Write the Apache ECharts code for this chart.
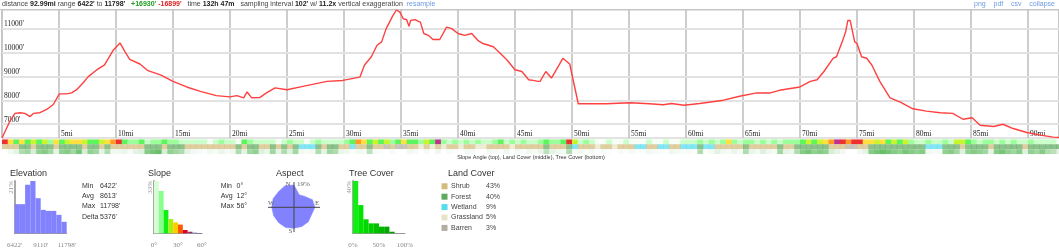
<!DOCTYPE html>
<html><head><meta charset="utf-8">
<script src="https://cdn.jsdelivr.net/npm/echarts@6/dist/echarts.min.js"></script>
<style>html,body{margin:0;padding:0;background:#fff}#c{width:1059px;height:250px}</style>
</head><body><div id="c"></div>
<script>
// ---------- data ----------
const profileMiles = [0,0.7,1.14,1.58,2.0,2.46,2.75,3.33,3.92,4.5,5.03,5.67,6.1,6.55,7.1,7.57,8.3,9.0,9.76,10.35,10.8,11.2,12.1,12.8,13.9,15.0,16.2,17.4,18.8,20.0,20.6,21.2,21.5,21.9,22.6,23.2,23.95,25.0,26.4,28.5,29.9,31.4,31.8,32.4,32.9,33.3,33.7,34.3,34.6,34.9,35.2,35.5,35.7,35.85,36.2,36.7,37.0,37.4,37.8,38.4,39.0,39.45,40.0,40.6,41.2,41.8,42.2,43.1,43.7,44.3,45.0,45.6,46.2,46.6,47.0,47.2,47.7,48.2,49.2,49.8,50.55,53.0,55.1,56.8,58.0,58.75,59.8,61.2,63.3,64.7,66.2,67.4,68.2,70.0,70.9,71.5,72.1,72.9,73.2,73.7,74.0,74.2,74.4,74.8,75.0,75.4,75.85,76.3,77.0,77.9,78.8,79.9,81.1,82.3,83.4,84.3,85.1,85.8,87.0,87.8,88.7,89.9,91.1,92.2,92.99];
const profileElev = [6422,7137,7456,7485,7456,7320,7456,7485,7620,7830,8275,8275,8315,8450,8730,9000,9280,9490,10110,10415,10040,9725,9530,9250,9075,8800,8565,8380,8200,8150,8200,8110,8355,8110,8120,8315,8525,8450,8590,8800,8840,8980,9490,9835,10320,10460,11015,11570,11798,11710,11430,11390,11110,11360,11390,11290,10810,10735,10560,10560,11080,11015,10810,10735,10810,10500,10390,10255,9980,9700,9290,9215,8870,8840,8800,8800,9215,8940,9770,9530,7860,7860,7900,7860,7820,7870,7800,7870,8010,8175,8315,8315,8425,8565,8800,8870,9215,9770,9835,10460,10875,11360,11360,10460,10390,9835,9770,9490,8800,8110,7925,7650,7550,7485,7455,7210,7275,6960,6905,7000,6820,6655,6545,6460,6430];
const elevTicks = [7000,8000,9000,10000,11000];
const elevTickLabels = ["7000'","8000'","9000'","10000'","11000'"];
const mileLabelSuffix = 'mi';

const stripStep = 0.5; // miles per strip cell
const slopeStrip = [
35,28,18,24,14,20,16,22,12,26,
15,20,24,28,22,18,14,20,26,30,
38,15,12,10,14,8,12,10,16,9,
12,8,6,4,8,5,3,6,12,4,
7,3,16,10,5,4,8,6,3,5,
9,4,6,3,7,12,5,4,8,6,
10,14,30,26,18,22,15,20,12,16,
24,14,18,10,20,15,44,12,8,10,
6,9,5,12,8,4,10,14,7,9,
5,12,8,6,10,14,9,12,16,40,
22,8,10,7,3,2,4,2,3,5,
2,3,1,4,2,3,6,2,3,5,
8,6,9,7,10,8,12,26,10,8,
11,9,7,12,8,10,6,9,12,10,
16,20,18,22,28,32,44,36,30,40,
34,28,24,20,25,18,22,16,20,12,
8,5,9,4,7,10,6,20,22,14,
10,8,12,9,6,10,8,12,7,5,
9,6,4,8,5,3];
// 0 shrub, 1 forest, 2 wetland, 3 grassland, 4 barren
const landStrip = [
0,0,0,1,1,0,1,1,1,0,
1,1,1,1,0,1,1,0,1,0,
0,0,0,0,0,1,1,1,0,1,
1,1,0,0,0,0,0,0,0,0,
0,1,0,1,1,0,0,1,0,1,
0,1,2,2,2,1,0,1,1,0,
0,2,0,0,1,0,0,4,0,4,
4,0,0,3,0,3,0,3,0,0,
3,0,0,3,3,0,0,0,0,3,
0,0,0,0,0,1,0,0,0,1,
2,0,0,0,3,0,0,3,0,0,
0,2,2,0,0,2,2,0,0,2,
2,2,1,2,2,0,0,0,0,0,
1,0,0,0,0,0,1,0,0,1,
1,1,1,1,1,0,0,0,4,4,
0,0,1,1,1,1,1,1,1,1,
1,1,2,2,2,1,1,1,0,1,
1,1,1,0,1,1,1,1,1,0,
1,1,1,1,1,1];
const treeStrip = [
0,5,10,30,35,15,40,45,35,10,
40,45,35,50,15,40,35,10,30,5,
5,8,3,10,12,45,50,55,15,40,
35,30,10,5,3,2,5,3,8,4,
6,30,10,35,40,12,8,35,10,30,
12,35,5,3,5,30,10,35,30,8,
6,2,5,4,25,3,2,0,3,0,
0,5,3,0,4,0,6,0,3,2,
0,4,3,0,0,5,3,2,6,0,
4,2,5,3,8,25,10,6,4,30,
3,5,2,4,0,3,2,0,3,2,
4,2,1,5,3,2,1,6,4,2,
3,2,30,2,4,10,5,3,8,4,
30,8,5,12,6,4,35,10,8,30,
45,50,40,45,40,15,10,5,0,0,
5,10,45,50,55,50,45,40,50,45,
40,45,5,3,4,40,45,35,12,40,
45,40,35,10,45,50,40,35,45,12,
40,35,45,30,25,10];
const stripCaption = 'Slope Angle (top), Land Cover (middle), Tree Cover (bottom)';

const elevHist = [11.7,11.7,19.5,21,14.1,9.4,9.0,9.0,7.4,4.6];
const elevHistRange = [6422,11798];
const elevHistLabels = ["6422'","9110'","11798'"];
const elevHistMaxLabel = '21%';
const slopeHist = [33,26.7,14.7,9,6.9,5.5,2.1,1,0.4,0.2];
const slopeHistRange = [0,60];
const slopeHistLabels = ['0°','30°','60°'];
const slopeHistMaxLabel = '33%';
const treeHist = [40,21.6,10.7,7.6,7.6,5.1,5.1,1.2,0,0];
const treeHistRange = [0,100];
const treeHistLabels = ['0%','50%','100%'];
const treeHistMaxLabel = '40%';

// aspect: compass order, clockwise from N, 22.5° apart
const aspectDirs = ['N','NNE','NE','ENE','E','ESE','SE','SSE','S','SSW','SW','WSW','W','WNW','NW','NNW'];
const aspectPct = [18.1,11,12.5,16.2,17,15.5,16.5,16.9,17,17.8,17.6,17.9,18.1,18.4,17.9,19];
const aspectMax = 19;

const elevStats = [['Min',"6422'"],['Avg',"8613'"],['Max',"11798'"],['Delta',"5376'"]];
const slopeStats = [['Min','0°'],['Avg','12°'],['Max','56°']];
const landNames = ['Shrub','Forest','Wetland','Grassland','Barren'];
const landPct = ['43%','40%','9%','5%','3%'];
const panelTitles = ['Elevation','Slope','Aspect','Tree Cover','Land Cover'];

// ---------- styles ----------
const SANS = 'Liberation Sans, Arial, sans-serif';
const SERIF = 'Liberation Serif, Times New Roman, serif';
const landColors = ['#d2bb7c','#5ea95e','#55dbee','#e6e4c6','#b3aea4'];
const slopeBinColors = ['#d6ffd6','#88ff88','#11ee11','#a8ee11','#ffcc00','#ff5a00','#dd0022','#993366','#6464a6','#404090'];
const treeBinColors = ['#11ee11','#00e400','#00d800','#00cc00','#00c000','#00b400','#00a800','#009c00','#009000','#008400'];
function slopeColor(d){
  const th=[4,9,14,19,24,29,34,42];
  const cs=['#f6fff6','#caffca','#9cff9c','#5cf55c','#c8f530','#ffe040','#ff9a2a','#ee3030','#c03090'];
  let i=0; while(i<th.length && d>=th[i]) i++; return cs[i];
}
function treeColor(v){
  const t=Math.min(v/60,1);
  const a=[255,255,255], b=[92,184,92];
  return 'rgb('+a.map((x,k)=>Math.round(x+(b[k]-x)*t)).join(',')+')';
}

// ---------- build ----------
const chart = echarts.init(document.getElementById('c'));
const profileData = profileMiles.map((m,i)=>[m, profileElev[i]]);
function stripData(vals,row){ return vals.map((v,i)=>[i*stripStep,(i+1)*stripStep,row,v]); }
function histData(vals,range){ const w=(range[1]-range[0])/vals.length; return vals.map((v,i)=>[range[0]+i*w, range[0]+(i+1)*w, v, i]); }
function histRender(colors){
  return function(params, api){
    const a=api.coord([api.value(0), api.value(2)]);
    const b=api.coord([api.value(1), 0]);
    return {type:'rect', shape:{x:a[0], y:a[1], width:b[0]-a[0], height:b[1]-a[1]}, style:{fill:colors[api.value(3)%colors.length]}};
  };
}
function stripRender(params, api){
  const row=api.value(2), v=api.value(3);
  const a=api.coord([api.value(0), row]);
  const b=api.coord([api.value(1), row]);
  const h=api.size([0,1])[1];
  let fill, op=1;
  if(row===0) fill=slopeColor(v);
  else if(row===1){ fill=landColors[v]; op=0.72; }
  else fill=treeColor(v);
  return {type:'rect', shape:{x:a[0], y:a[1]-h/2, width:b[0]-a[0]+0.5, height:h}, style:{fill:fill, opacity:op}};
}
const aspectData = aspectPct.map((v,i)=>[v, i*360/aspectDirs.length]);
function aspectRender(params, api){
  if(params.dataIndex!==0) return null;
  const pts = aspectData.map(d=>api.coord([d[0], d[1]]));
  return {type:'polygon', shape:{points:pts}, style:{fill:'#8282ff', stroke:'#8282ff', lineWidth:0.5}};
}

const xMaxMiles = 92.72;
const histGrids = [
  {left:14.7, top:181, width:52, height:52.3},
  {left:154, top:181, width:48, height:52.3},
  {left:353, top:181, width:52, height:52.3}
];
const hists = [
  {vals:elevHist, range:elevHistRange, labels:elevHistLabels, maxLabel:elevHistMaxLabel, colors:['#8282ff']},
  {vals:slopeHist, range:slopeHistRange, labels:slopeHistLabels, maxLabel:slopeHistMaxLabel, colors:slopeBinColors},
  {vals:treeHist, range:treeHistRange, labels:treeHistLabels, maxLabel:treeHistMaxLabel, colors:treeBinColors}
];

const grid = [
  {left:2, right:0, top:10, height:128, show:true, borderColor:'#c6c6c6', borderWidth:1},
  {left:2, right:0, top:139.3, height:15}
].concat(histGrids);

const xAxis = [
  {gridIndex:0, type:'value', min:0, max:xMaxMiles, interval:5,
   axisLine:{show:false}, axisTick:{show:false},
   splitLine:{show:true, lineStyle:{color:'#bdbdbd', width:1.5}},
   axisLabel:{inside:true, margin:0, align:'left', verticalAlign:'bottom', padding:[0,0,0,2],
     color:'#222', fontFamily:SERIF, fontSize:7.5, showMinLabel:false, showMaxLabel:false,
     formatter:v=>v+mileLabelSuffix}},
  {gridIndex:1, type:'value', min:0, max:xMaxMiles, show:false}
];
const yAxis = [
  {gridIndex:0, type:'value', min:6422, max:11798, show:false, splitLine:{show:false}},
  {gridIndex:1, type:'category', data:['slope','land','tree'], inverse:true, show:false}
];
hists.forEach((h,k)=>{
  const interval=(h.range[1]-h.range[0])/2;
  const ymax=Math.max.apply(null,h.vals);
  xAxis.push({gridIndex:2+k, type:'value', min:h.range[0], max:h.range[1], interval:interval,
    axisLine:{show:true, lineStyle:{color:'#9a9a9a', width:1}}, axisTick:{show:false}, splitLine:{show:false},
    axisLabel:{margin:8, color:'#888', fontFamily:SERIF, fontSize:7, showMinLabel:true, showMaxLabel:true,
      formatter:(v,i)=>h.labels[i]}});
  yAxis.push({gridIndex:2+k, type:'value', min:0, max:ymax, interval:ymax,
    axisLine:{show:true, lineStyle:{color:'#a8a8a8', width:2}}, axisTick:{show:false}, splitLine:{show:false},
    axisLabel:{show:true, rotate:90, margin:4, align:'right', verticalAlign:'middle', color:'#999', fontFamily:SERIF, fontSize:7,
      formatter:v=> v===ymax ? h.maxLabel : ''}});
});

const series = [
  {type:'line', xAxisIndex:0, yAxisIndex:0, data:[[0,6422]], symbol:'none', lineStyle:{opacity:0}, z:1, silent:true,
   markLine:{silent:true, symbol:['none','none'], animation:false, z:1,
     lineStyle:{color:'#e2e2e2', width:2, type:'solid'},
     label:{show:true, position:'insideStartTop', distance:[2,0.5], color:'#222', fontFamily:SERIF, fontSize:7.5},
     data:elevTicks.map((v,i)=>({yAxis:v, label:{formatter:elevTickLabels[i]}}))}},
  {type:'line', xAxisIndex:0, yAxisIndex:0, data:profileData, symbol:'none', z:10,
   lineStyle:{color:'#ff4040', width:1.4}},
  {type:'custom', xAxisIndex:1, yAxisIndex:1, renderItem:stripRender, clip:true,
   encode:{x:[0,1], y:2},
   data:stripData(slopeStrip,0).concat(stripData(landStrip,1), stripData(treeStrip,2))}
];
hists.forEach((h,k)=>{
  series.push({type:'custom', xAxisIndex:2+k, yAxisIndex:2+k, renderItem:histRender(h.colors),
    encode:{x:[0,1], y:2}, data:histData(h.vals,h.range)});
});
series.push({type:'custom', coordinateSystem:'polar', renderItem:aspectRender, silent:true, data:aspectData, z:2});

const polar = {center:[294,207.3], radius:23.4};
const angleAxis = {type:'value', min:0, max:360, startAngle:90, clockwise:true, show:false};
const radiusAxis = {type:'value', min:0, max:aspectMax, show:false};

// ---------- texts ----------
const HF = 7;
const graphic = [];
graphic.push({type:'text', left:2, top:1, silent:true, style:{
  text:'{t|distance }{b|92.99mi}{t| range }{b|6422\'}{t| to }{b|11798\'}{t|   }{g|+16930\'}{t| }{r|-16899\'}{t|   time }{b|132h 47m}{t|   sampling interval }{b|102\'}{t| w/ }{b|11.2x}{t| vertical exaggeration  }{l|resample}',
  rich:{
    t:{fontFamily:SANS, fontSize:HF, fill:'#444'},
    b:{fontFamily:SANS, fontSize:HF, fontWeight:'bold', fill:'#222'},
    g:{fontFamily:SANS, fontSize:HF, fontWeight:'bold', fill:'#1c9a1c'},
    r:{fontFamily:SANS, fontSize:HF, fontWeight:'bold', fill:'#e02020'},
    l:{fontFamily:SANS, fontSize:HF, fill:'#6c9be0'}
  }}});
graphic.push({type:'text', right:4, top:1, silent:true, style:{text:'png    pdf    csv    collapse', fontFamily:SANS, fontSize:HF, fill:'#6c9be0'}});
graphic.push({type:'line', silent:true, shape:{x1:0,y1:9.5,x2:1059,y2:9.5}, style:{stroke:'#c6c6c6', lineWidth:1}});
graphic.push({type:'text', x:531, y:157.5, silent:true, style:{text:stripCaption, fontFamily:SANS, fontSize:5.5, fill:'#333', align:'center', verticalAlign:'middle'}});

const titleX = [10,148,276,349,448];
panelTitles.forEach((t,i)=>graphic.push({type:'text', x:titleX[i], y:173.5, silent:true, style:{text:t, fontFamily:SANS, fontSize:9, fill:'#333', verticalAlign:'middle'}}));

const SF = 7;
elevStats.forEach((s,i)=>{
  graphic.push({type:'text', x:82, y:185.7+i*10.4, silent:true, style:{text:s[0], fontFamily:SANS, fontSize:SF, fill:'#333', verticalAlign:'middle'}});
  graphic.push({type:'text', x:100, y:185.7+i*10.4, silent:true, style:{text:s[1], fontFamily:SANS, fontSize:SF, fill:'#333', verticalAlign:'middle'}});
});
slopeStats.forEach((s,i)=>{
  graphic.push({type:'text', x:220.7, y:185.7+i*10.4, silent:true, style:{text:s[0], fontFamily:SANS, fontSize:SF, fill:'#333', verticalAlign:'middle'}});
  graphic.push({type:'text', x:236.5, y:185.7+i*10.4, silent:true, style:{text:s[1], fontFamily:SANS, fontSize:SF, fill:'#333', verticalAlign:'middle'}});
});

// aspect crosshair and labels
graphic.push({type:'line', silent:true, z:10, shape:{x1:268,y1:207.3,x2:320,y2:207.3}, style:{stroke:'#444', lineWidth:1}});
graphic.push({type:'line', silent:true, z:10, shape:{x1:294,y1:182,x2:294,y2:232}, style:{stroke:'#444', lineWidth:1}});
[['N',290.5,184.5,'right'],['W',268,203,'left'],['E',315,203,'left'],['S',292.5,231,'right']].forEach(l=>
  graphic.push({type:'text', x:l[1], y:l[2], silent:true, z:11, style:{text:l[0], fontFamily:SERIF, fontSize:7, fill:'#666', align:l[3], verticalAlign:'middle'}}));
graphic.push({type:'text', x:297, y:184.5, silent:true, z:11, style:{text:aspectMax+'%', fontFamily:SERIF, fontSize:7, fill:'#666', verticalAlign:'middle'}});

landNames.forEach((n,i)=>{
  const y=186.3+i*10.4;
  graphic.push({type:'rect', silent:true, shape:{x:441.5, y:y-3, width:6, height:6}, style:{fill:landColors[i]}});
  graphic.push({type:'text', x:451, y:y, silent:true, style:{text:n, fontFamily:SANS, fontSize:SF, fill:'#444', verticalAlign:'middle'}});
  graphic.push({type:'text', x:486, y:y, silent:true, style:{text:landPct[i], fontFamily:SANS, fontSize:SF, fill:'#444', verticalAlign:'middle'}});
});

chart.setOption({animation:false, backgroundColor:'#fff', grid:grid, xAxis:xAxis, yAxis:yAxis,
  polar:polar, angleAxis:angleAxis, radiusAxis:radiusAxis, series:series, graphic:graphic});
</script></body></html>
